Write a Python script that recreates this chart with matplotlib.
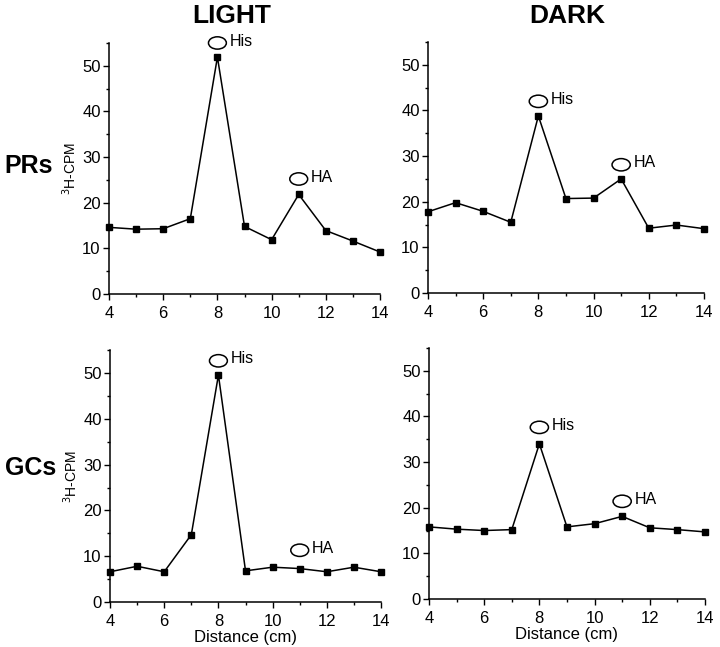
import matplotlib
matplotlib.use("Agg")
import matplotlib.pyplot as plt
from matplotlib.patches import Ellipse
from matplotlib.ticker import MultipleLocator

plt.rcParams["font.family"] = ["Liberation Sans", "DejaVu Sans"]

# ===== data =====
distance = [4, 5, 6, 7, 8, 9, 10, 11, 12, 13, 14]

prs_light = [14.6, 14.2, 14.3, 16.5, 51.9, 14.8, 11.9, 21.8, 13.9, 11.6, 9.2]
prs_dark = [17.8, 19.8, 17.9, 15.5, 38.8, 20.7, 20.8, 25.0, 14.2, 14.9, 14.1]
gcs_light = [6.6, 7.8, 6.6, 14.7, 49.6, 6.8, 7.6, 7.3, 6.6, 7.6, 6.6]
gcs_dark = [15.8, 15.3, 15.0, 15.2, 34.0, 15.8, 16.5, 18.1, 15.6, 15.2, 14.7]

# label positions (distance, y) for His / HA circles
peak_labels = ["His", "HA"]
peak_x = [8, 11]
prs_light_lab = [55.0, 25.2]
prs_dark_lab = [42.0, 28.1]
gcs_light_lab = [52.7, 11.3]
gcs_dark_lab = [37.6, 21.4]

col_titles = ["LIGHT", "DARK"]
row_titles = ["PRs", "GCs"]

# ===== figure =====
fig = plt.figure(figsize=(7.2, 6.47), dpi=100)

panels = [
    ([0.1514, 0.5456, 0.3764, 0.388], prs_light, prs_light_lab),
    ([0.5944, 0.5471, 0.3833, 0.388], prs_dark, prs_dark_lab),
    ([0.1528, 0.0696, 0.3764, 0.389], gcs_light, gcs_light_lab),
    ([0.5958, 0.0742, 0.3833, 0.388], gcs_dark, gcs_dark_lab),
]

axes = []
for i, (rect, vals, lab_y) in enumerate(panels):
    ax = fig.add_axes(rect)
    ax.plot(distance, vals, color="black", lw=1.1, marker="s", ms=4.5, clip_on=False)
    ax.set_xlim(4, 14)
    ax.set_ylim(0, 55)
    ax.xaxis.set_major_locator(MultipleLocator(2))
    ax.xaxis.set_minor_locator(MultipleLocator(1))
    ax.yaxis.set_major_locator(MultipleLocator(10))
    ax.yaxis.set_minor_locator(MultipleLocator(5))
    ax.set_yticks([0, 10, 20, 30, 40, 50])
    ax.tick_params(axis="both", which="major", length=4.5, width=1, labelsize=12)
    ax.tick_params(axis="x", which="major", pad=4)
    ax.tick_params(axis="y", which="major", pad=1.5)
    ax.tick_params(axis="both", which="minor", length=2.5, width=1)
    ax.spines["top"].set_visible(False)
    ax.spines["right"].set_visible(False)
    ax.spines["left"].set_bounds(0, 55)
    for s in ["left", "bottom"]:
        ax.spines[s].set_linewidth(1.1)

    for name, px, py in zip(peak_labels, peak_x, lab_y):
        ax.add_patch(Ellipse((px, py), 0.66, 2.7, fill=False, ec="black", lw=1.1,
                             clip_on=False))
        ax.text(px + 0.45, py + 0.4, name, fontsize=11.5, ha="left", va="center")

    if i % 2 == 0:
        ax.set_ylabel("$^3$H-CPM", fontsize=10, labelpad=2)
    if i >= 2:
        ax.set_xlabel("Distance (cm)", fontsize=12, labelpad=1)
    axes.append(ax)

fig.text(0.322, 0.975, col_titles[0], fontsize=19, fontweight="bold", ha="center", va="center")
fig.text(0.788, 0.975, col_titles[1], fontsize=19, fontweight="bold", ha="center", va="center")
fig.text(0.040, 0.743, row_titles[0], fontsize=18, fontweight="bold", ha="center", va="center")
fig.text(0.042, 0.276, row_titles[1], fontsize=18, fontweight="bold", ha="center", va="center")

fig.savefig("out.png", dpi=100)
plt.close(fig)
